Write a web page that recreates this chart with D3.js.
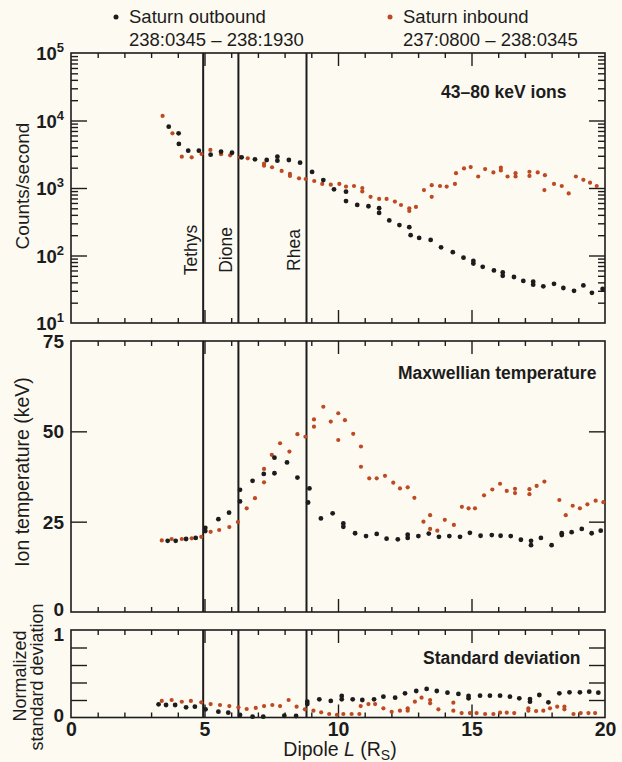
<!DOCTYPE html>
<html>
<head>
<meta charset="utf-8">
<script src="https://cdn.jsdelivr.net/npm/d3@7"></script>
<style>
  body { margin: 0; background: #fdfaf2; }
  svg { display: block; font-family: "Liberation Sans", Arial, sans-serif; }
</style>
</head>
<body>
<svg id="chart" width="622" height="762"></svg>
<script>
// moons (dipole L of the satellite orbits)
const moonNames = ["Tethys", "Dione", "Rhea"];
const moonL = [4.95, 6.27, 8.82];

// 43-80 keV ion counts/second  [L, value]
const countsOut = [
  [3.66, 8090], [4.03, 6460], [4.04, 4490], [4.39, 3570], [4.79, 3570], [5.23, 3120],
  [5.62, 3450], [6.03, 3330], [6.39, 2850], [6.89, 2660], [7.33, 2600], [7.73, 2910],
  [7.73, 2540], [8.16, 2600], [8.58, 2370], [9.03, 1730], [9.45, 1310], [9.85, 955],
  [10.3, 883], [10.3, 641], [10.72, 562], [11.14, 537], [11.54, 501], [11.54, 427],
  [11.92, 331], [12.3, 282], [12.67, 263], [12.72, 200], [13.04, 182], [13.47, 170],
  [13.86, 132], [14.3, 112], [14.7, 93], [15.07, 83], [15.07, 76], [15.42, 68],
  [15.84, 60], [16.17, 56], [16.17, 50], [16.59, 48], [16.94, 42], [17.31, 41],
  [17.31, 37], [17.69, 35], [18.09, 38], [18.44, 33], [18.84, 30], [19.19, 36],
  [19.51, 28], [19.91, 32]
];
const countsIn = [
  [3.43, 11700], [3.8, 6460], [4.15, 2910], [4.52, 2850], [4.89, 3190], [5.22, 3660],
  [5.62, 3160], [5.96, 3050], [6.33, 2850], [6.62, 2750], [7.23, 2140], [7.23, 2290],
  [7.53, 2030], [7.89, 1790], [8.2, 1620], [8.2, 1510], [8.54, 1390], [8.79, 1360],
  [9.11, 1270], [9.41, 1150], [9.73, 1120], [10.05, 1150], [10.3, 1050], [10.6, 1070],
  [10.91, 1000], [10.91, 890], [11.22, 740], [11.54, 690], [11.82, 690], [12.13, 630],
  [12.36, 560], [12.67, 500], [12.67, 457], [12.92, 525], [13.22, 933], [13.51, 1100],
  [13.51, 740], [13.82, 1070], [14.07, 1050], [14.38, 1150], [14.42, 1660], [14.72, 1950],
  [14.97, 2040], [15.25, 1480], [15.51, 1910], [15.82, 1700], [16.1, 2000], [16.1, 1820],
  [16.35, 1480], [16.65, 1660], [16.65, 1480], [17.17, 1740], [17.17, 1510], [17.48, 1700],
  [17.75, 1550], [17.73, 933], [18.09, 1150], [18.38, 1070], [18.64, 830], [18.91, 1480],
  [19.19, 1320], [19.44, 1200], [19.69, 1070]
];

// Maxwellian ion temperature (keV)
const tempOut = [
  [3.62, 19.7], [3.92, 19.7], [4.31, 20.2], [4.67, 20.5], [5.03, 23.3], [5.03, 22.4],
  [5.52, 25.7], [5.92, 27.5], [6.33, 33.8], [6.33, 30.6], [6.8, 36.3], [7.22, 38.2],
  [7.62, 42.7], [7.62, 38.4], [8.09, 41.4], [8.48, 37.2], [8.93, 34.2], [8.88, 30.3],
  [9.36, 25.9], [9.8, 27.3], [10.2, 24.5], [10.2, 23.6], [10.64, 21.8], [11.05, 21.0],
  [11.45, 21.6], [11.82, 20.3], [12.24, 20.1], [12.61, 21.4], [12.61, 20.5], [13.01, 21.0],
  [13.4, 21.7], [13.78, 20.8], [14.17, 21.0], [14.57, 20.8], [14.94, 21.9], [15.34, 21.1],
  [15.76, 21.3], [16.09, 21.1], [16.47, 21.0], [16.85, 20.0], [17.23, 19.7], [17.23, 18.5],
  [17.6, 20.5], [18.0, 18.5], [18.38, 21.8], [18.38, 21.3], [18.75, 22.1], [19.13, 23.0],
  [19.5, 21.8], [19.84, 22.5]
];
const tempIn = [
  [3.4, 19.8], [3.77, 20.2], [4.15, 20.2], [4.52, 20.4], [4.88, 20.8], [5.23, 22.2],
  [5.55, 22.7], [5.93, 23.5], [6.25, 24.9], [6.58, 28.7], [6.89, 31.5], [7.23, 35.9],
  [7.23, 39.6], [7.52, 43.5], [7.83, 46.7], [8.18, 44.4], [8.48, 49.2], [8.78, 48.5],
  [9.1, 53.3], [9.1, 51.3], [9.45, 56.8], [9.73, 52.7], [10.01, 55.0], [10.01, 47.6],
  [10.26, 53.1], [10.57, 49.3], [10.86, 45.8], [10.86, 40.2], [11.17, 37.0], [11.45, 37.0],
  [11.76, 37.7], [12.07, 35.8], [12.32, 34.2], [12.61, 34.5], [12.86, 31.6], [13.2, 25.0],
  [13.45, 26.8], [13.45, 23.0], [13.72, 22.5], [14.0, 25.5], [14.34, 24.1], [14.64, 29.1],
  [14.89, 28.7], [15.13, 28.7], [15.47, 32.3], [15.78, 33.9], [16.07, 35.5], [16.32, 33.5],
  [16.63, 34.1], [16.63, 32.9], [17.17, 34.0], [17.17, 32.6], [17.44, 34.9], [17.73, 36.1],
  [18.29, 31.0], [18.53, 26.8], [18.79, 29.4], [19.06, 28.7], [19.34, 29.8], [19.65, 30.8],
  [19.94, 30.4]
];

// normalized standard deviation
const sdOut = [
  [3.28, 0.151], [3.56, 0.143], [3.9, 0.143], [4.31, 0.116], [4.64, 0.124], [5.04, 0.094],
  [5.52, 0.066], [5.89, 0.055], [6.33, 0.03], [6.8, 0.01], [7.2, 0.01], [7.99, 0.02],
  [8.43, 0.017], [8.85, 0.18], [8.85, 0.154], [9.3, 0.208], [9.73, 0.189], [10.14, 0.246],
  [10.14, 0.208], [10.55, 0.208], [10.91, 0.2], [11.35, 0.208], [11.7, 0.238], [12.14, 0.227],
  [12.51, 0.276], [12.93, 0.303], [13.32, 0.326], [13.7, 0.303], [14.1, 0.284], [14.51, 0.269],
  [14.89, 0.246], [14.89, 0.219], [15.32, 0.25], [15.69, 0.25], [16.07, 0.25], [16.44, 0.238],
  [16.79, 0.219], [17.19, 0.211], [17.19, 0.181], [17.54, 0.257], [17.88, 0.174], [18.29, 0.276],
  [18.67, 0.288], [19.06, 0.288], [19.41, 0.295], [19.75, 0.284]
];
const sdIn = [
  [3.4, 0.189], [3.77, 0.2], [4.15, 0.18], [4.49, 0.189], [4.88, 0.174], [5.23, 0.154],
  [5.58, 0.143], [5.93, 0.131], [6.27, 0.116], [6.58, 0.097], [6.92, 0.109], [7.23, 0.131],
  [7.54, 0.143], [7.83, 0.131], [8.15, 0.2], [8.45, 0.124], [8.76, 0.094], [9.08, 0.078],
  [9.37, 0.059], [9.67, 0.04], [9.96, 0.029], [10.2, 0.04], [10.51, 0.04], [10.8, 0.04],
  [10.85, 0.131], [11.14, 0.154], [11.39, 0.154], [11.7, 0.105], [12.01, 0.066], [12.32, 0.078],
  [12.61, 0.105], [12.61, 0.078], [12.88, 0.181], [13.13, 0.227], [13.45, 0.2], [13.45, 0.162],
  [13.76, 0.094], [14.32, 0.169], [14.32, 0.078], [14.63, 0.051], [14.94, 0.051], [15.19, 0.051],
  [15.51, 0.04], [15.82, 0.04], [16.07, 0.055], [16.32, 0.055], [16.6, 0.051], [17.13, 0.105],
  [17.13, 0.078], [17.42, 0.074], [17.69, 0.078], [17.94, 0.105], [18.21, 0.124], [18.48, 0.124],
  [18.48, 0.094], [18.82, 0.04], [19.09, 0.051], [19.38, 0.051], [19.63, 0.051]
];

const xTickLabels = [0, 5, 10, 15, 20];

const ink = "#1c1c1c";
const orange = "#bd4a22";

const svg = d3.select("#chart");
svg.append("rect").attr("width", 622).attr("height", 762).attr("fill", "#fdfaf2");

const x = d3.scaleLinear().domain([0, 20]).range([71, 605]);
const minorL = d3.range(1, 20).filter(d => d % 5 !== 0);
const majorL = [5, 10, 15];

const panels = [
  { y: d3.scaleLog().domain([10, 1e5]).range([323, 53]), out: countsOut, inb: countsIn,
    note: "43\u201380 keV ions", noteX: 441, noteY: 98 },
  { y: d3.scaleLinear().domain([0, 75]).range([612, 341]), out: tempOut, inb: tempIn,
    note: "Maxwellian temperature", noteX: 398, noteY: 379 },
  { y: d3.scaleLinear().domain([0, 1]).range([717.5, 630]), out: sdOut, inb: sdIn,
    note: "Standard deviation", noteX: 423, noteY: 664 }
];

const tickAxis = (g, axis, vals, size) => {
  g.call(axis.tickValues(vals).tickSizeInner(-size).tickSizeOuter(0).tickFormat(""));
  g.select(".domain").remove();
  g.selectAll("line").attr("stroke", ink).attr("stroke-width", 1.4);
};

panels.forEach((p, i) => {
  const [y0, y1] = p.y.range();
  const g = svg.append("g");

  // x ticks on bottom and top, pointing inward
  tickAxis(g.append("g").attr("transform", `translate(0,${y0})`), d3.axisBottom(x), minorL, 5);
  tickAxis(g.append("g").attr("transform", `translate(0,${y0})`), d3.axisBottom(x), majorL, 13);
  tickAxis(g.append("g").attr("transform", `translate(0,${y1})`), d3.axisTop(x), minorL, 5);
  tickAxis(g.append("g").attr("transform", `translate(0,${y1})`), d3.axisTop(x), majorL, 13);

  // y ticks on left and right
  let major, minor = [];
  if (i === 0) {
    major = [100, 1000, 10000];
    minor = p.y.ticks().filter(v => major.indexOf(v) < 0 && v > 10 && v < 1e5);
  } else if (i === 1) {
    major = [25, 50];
  } else {
    major = [0.2, 0.4, 0.6, 0.8];
  }
  [[d3.axisLeft, 71], [d3.axisRight, 605]].forEach(([ax, xp]) => {
    tickAxis(g.append("g").attr("transform", `translate(${xp},0)`), ax(p.y), major, 16);
    if (minor.length)
      tickAxis(g.append("g").attr("transform", `translate(${xp},0)`), ax(p.y), minor, 7);
  });

  // frame
  g.append("rect")
    .attr("x", 71).attr("y", y1)
    .attr("width", 605 - 71).attr("height", y0 - y1)
    .attr("fill", "none").attr("stroke", ink).attr("stroke-width", 1.6);

  // moon lines
  g.selectAll(".moon").data(moonL).join("line")
    .attr("x1", d => x(d)).attr("x2", d => x(d))
    .attr("y1", y1).attr("y2", y0)
    .attr("stroke", ink).attr("stroke-width", 2);

  // data
  g.selectAll(".in").data(p.inb).join("circle")
    .attr("cx", d => x(d[0])).attr("cy", d => p.y(d[1]))
    .attr("r", 2.1).attr("fill", orange);
  g.selectAll(".out").data(p.out).join("circle")
    .attr("cx", d => x(d[0])).attr("cy", d => p.y(d[1]))
    .attr("r", 2.4).attr("fill", ink);

  g.append("text")
    .attr("x", p.noteX).attr("y", p.noteY)
    .attr("font-size", 17.5).attr("font-weight", "bold").attr("fill", ink)
    .text(p.note);
});

// y tick labels
const topY = panels[0].y;
[1, 2, 3, 4, 5].forEach(e => {
  const t = svg.append("text")
    .attr("x", 64).attr("y", topY(Math.pow(10, e)) + 7)
    .attr("text-anchor", "end").attr("font-weight", "bold").attr("fill", ink);
  t.append("tspan").attr("font-size", 18.5).text("10");
  t.append("tspan").attr("font-size", 13).attr("dy", -8).text(e);
});
const midY = panels[1].y;
[0, 25, 50, 75].forEach(v => {
  svg.append("text")
    .attr("x", 64).attr("y", midY(v) + (v === 0 ? 4 : 7))
    .attr("text-anchor", "end").attr("font-size", 19).attr("font-weight", "bold")
    .attr("fill", ink).text(v);
});
const botY = panels[2].y;
[0, 1].forEach(v => {
  svg.append("text")
    .attr("x", 64).attr("y", botY(v) + (v === 1 ? 11 : 4))
    .attr("text-anchor", "end").attr("font-size", 19).attr("font-weight", "bold")
    .attr("fill", ink).text(v);
});

// x axis labels
const xLab = svg.append("g").attr("transform", "translate(0,717.5)")
  .call(d3.axisBottom(x).tickValues(xTickLabels).tickSize(0).tickPadding(5));
xLab.select(".domain").remove();
xLab.selectAll("text")
  .attr("font-family", "Liberation Sans, Arial, sans-serif")
  .attr("font-size", 19.5).attr("font-weight", "bold").attr("fill", ink);

const xt = svg.append("text")
  .attr("x", 340).attr("y", 756).attr("text-anchor", "middle")
  .attr("font-size", 19.5).attr("fill", ink);
xt.append("tspan").text("Dipole ");
xt.append("tspan").attr("font-style", "italic").text("L");
xt.append("tspan").text(" (R");
xt.append("tspan").attr("font-size", 14).attr("dy", 4).text("S");
xt.append("tspan").attr("dy", -4).text(")");

// y axis titles
const yTitle = (cx, cy, txt, fs) => svg.append("text")
  .attr("transform", `translate(${cx},${cy}) rotate(-90)`)
  .attr("text-anchor", "middle").attr("font-size", fs).attr("fill", ink).text(txt);
yTitle(29, 186, "Counts/second", 19);
yTitle(29, 472, "Ion temperature (keV)", 19.5);
yTitle(26, 676, "Normalized", 18);
yTitle(43, 677, "standard deviation", 18);

// moon labels
moonNames.forEach((n, i) => {
  svg.append("text")
    .attr("transform", `translate(${x(moonL[i]) - 6},250) rotate(-90)`)
    .attr("text-anchor", "middle").attr("font-size", 17.5).attr("fill", ink).text(n);
});

// legend
const legend = [
  { dot: ink, x: 116, lines: ["Saturn outbound", "238:0345 \u2013 238:1930"] },
  { dot: orange, x: 390, lines: ["Saturn inbound", "237:0800 \u2013 238:0345"] }
];
legend.forEach(l => {
  svg.append("circle").attr("cx", l.x).attr("cy", 17).attr("r", 2.5).attr("fill", l.dot);
  l.lines.forEach((s, j) => {
    svg.append("text")
      .attr("x", l.x + 13).attr("y", 23 + j * 23)
      .attr("font-size", 18.5).attr("fill", ink).text(s);
  });
});
</script>
</body>
</html>
